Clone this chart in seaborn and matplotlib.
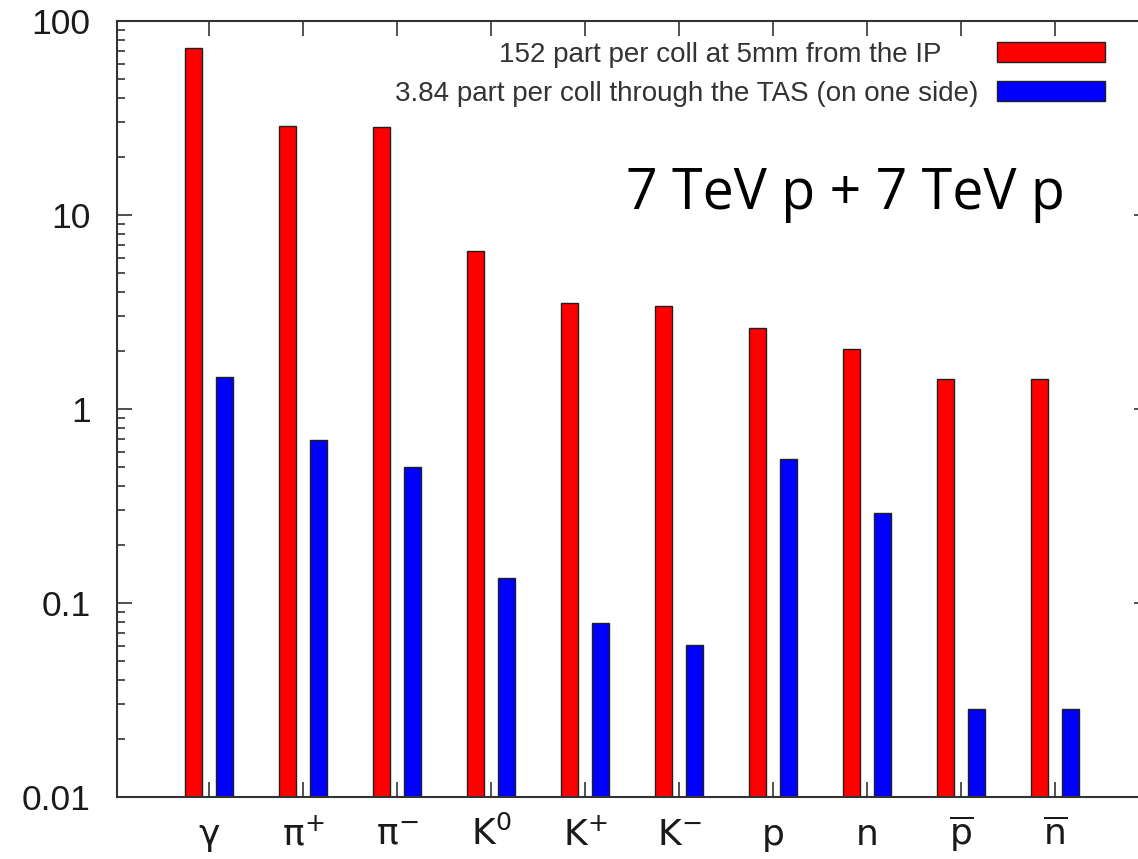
import matplotlib
matplotlib.use('Agg')
import matplotlib.pyplot as plt
from matplotlib.ticker import LogLocator, NullFormatter, FixedLocator
import seaborn as sns
import pandas as pd

# ---- data ----
particles = ['γ', 'π$^{+}$', 'π$^{-}$', 'K$^{0}$', 'K$^{+}$', 'K$^{-}$',
             'p', 'n', r'$\overline{p}$', r'$\overline{n}$']
ip_values = [73.0, 28.8, 28.3, 6.5, 3.5, 3.4, 2.6, 2.05, 1.42, 1.42]
tas_values = [1.46, 0.69, 0.50, 0.135, 0.079, 0.061, 0.55, 0.29, 0.0285, 0.0285]
series_labels = ['152 part per coll at 5mm from the IP',
                 '3.84 part per coll through the TAS (on one side)']
series_colors = ['#ff0000', '#0000ff']
ytick_values = [0.01, 0.1, 1, 10, 100]
ytick_labels = ['0.01', '0.1', '1', '10', '100']
annotation = '7 TeV p + 7 TeV p'

df = pd.DataFrame({
    'particle': particles * 2,
    'value': ip_values + tas_values,
    'series': [series_labels[0]] * len(particles) + [series_labels[1]] * len(particles),
})

sns.set_style('ticks')
plt.rcParams['font.family'] = ['Liberation Sans', 'DejaVu Sans']
plt.rcParams['mathtext.default'] = 'regular'

W, H = 1138, 859
fig = plt.figure(figsize=(W / 100, H / 100), dpi=100)
ax = fig.add_axes([117 / W, 62 / H, 1032 / W, 776 / H])

sns.barplot(data=df, x='particle', y='value', hue='series',
            order=particles, hue_order=series_labels,
            palette=dict(zip(series_labels, series_colors)),
            saturation=1, width=0.66, gap=0.47, errorbar=None,
            edgecolor='#202020', linewidth=1.0, ax=ax)

ax.set_yscale('log')
ax.set_ylim(0.01, 100)
ax.set_xlim(-0.98, 10.0)
ax.set_xlabel('')
ax.set_ylabel('')

ax.yaxis.set_major_locator(FixedLocator(ytick_values))
ax.set_yticklabels(ytick_labels)
ax.yaxis.set_minor_locator(LogLocator(base=10, subs=range(2, 10)))
ax.yaxis.set_minor_formatter(NullFormatter())

axis_col = '#333333'
for s in ax.spines.values():
    s.set_color(axis_col)
    s.set_linewidth(1.5)
    s.set_visible(True)

ax.tick_params(axis='both', which='both', direction='in', top=True, right=True,
               color=axis_col, width=1.2)
ax.tick_params(axis='both', which='major', length=11)
ax.tick_params(axis='y', which='minor', length=6)
ax.tick_params(axis='y', which='major', labelsize=25.5, pad=19, labelcolor='#1a1a1a')
ax.tick_params(axis='x', which='major', labelsize=26, pad=34.5, labelcolor='#1a1a1a')
for t in ax.get_xticklabels():
    t.set_fontfamily(['DejaVu Sans'])
    t.set_verticalalignment('baseline')

# legend: one entry per legend so each text keeps its own end position
handles, _ = ax.get_legend_handles_labels()
leg_kw = dict(loc='upper right', bbox_transform=fig.transFigure, frameon=False,
              markerfirst=False, fontsize=20, handlelength=3.9, handleheight=0.72,
              borderpad=0, borderaxespad=0, labelcolor='#333333')
leg1 = ax.legend([handles[0]], [series_labels[0]],
                 bbox_to_anchor=(1105 / W, 1 - 42 / H), handletextpad=1.98, **leg_kw)
ax.add_artist(leg1)
ax.legend([handles[1]], [series_labels[1]],
          bbox_to_anchor=(1105 / W, 1 - 81 / H), handletextpad=0.65, **leg_kw)

fig.text(626 / W, 1 - 209 / H, annotation, fontsize=40, family=['Open Sans', 'DejaVu Sans'],
         ha='left', va='baseline', color='black')

fig.savefig('out.png', dpi=100)
